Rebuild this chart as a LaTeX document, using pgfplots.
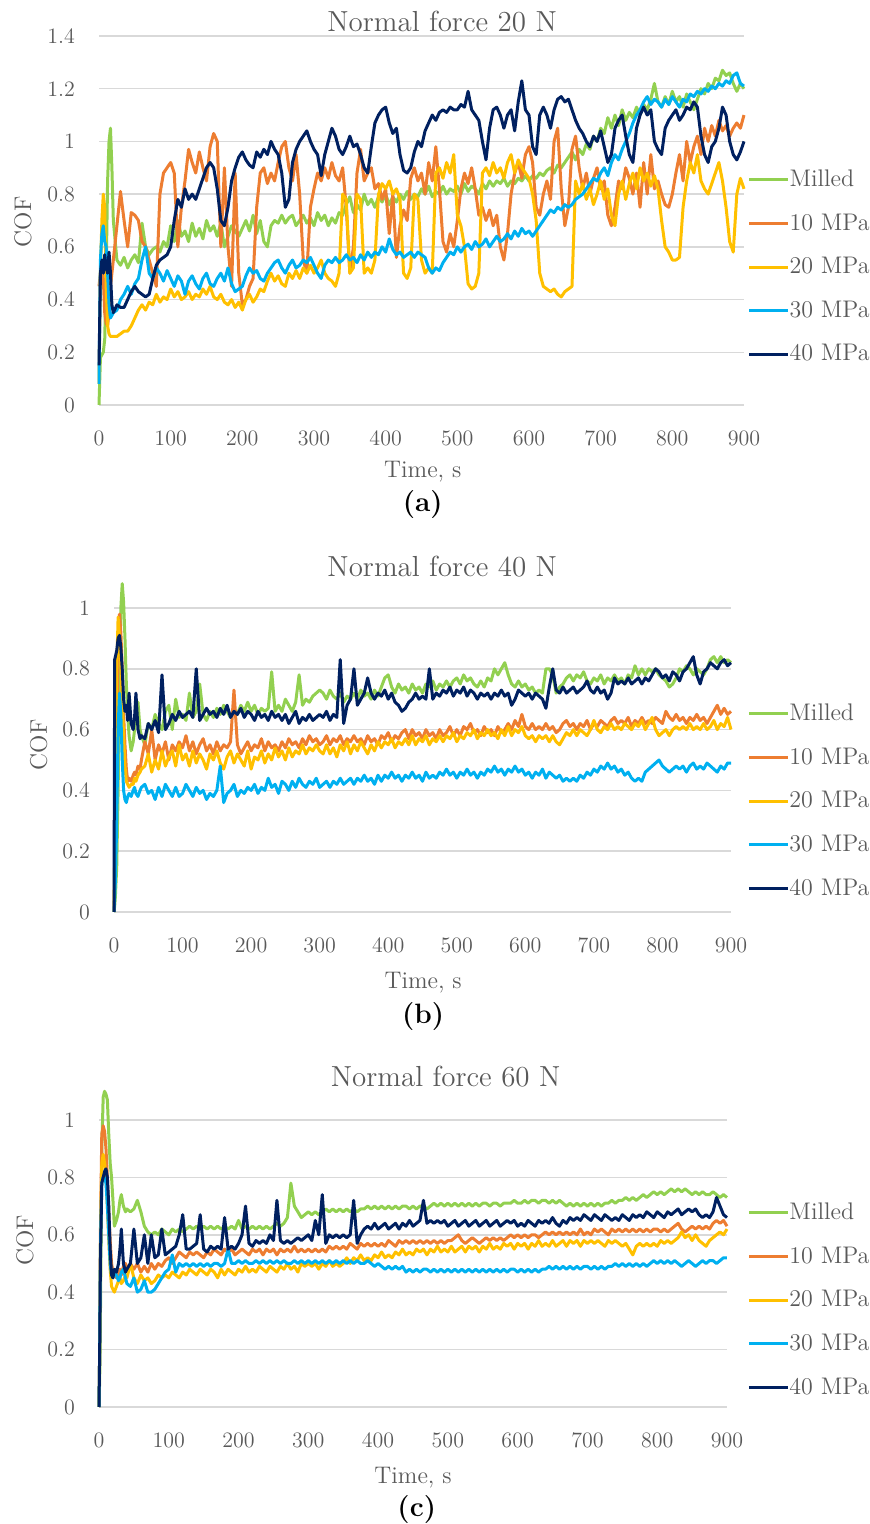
\documentclass[border=0pt]{standalone}
\usepackage{pgfplots}
\usepackage{pgfplotstable}
\pgfplotsset{compat=1.18}
\definecolor{cmilled}{HTML}{92D050}
\definecolor{cten}{HTML}{ED7D31}
\definecolor{ctwenty}{HTML}{FFC000}
\definecolor{cthirty}{HTML}{00B0F0}
\definecolor{cforty}{HTML}{002060}
\definecolor{gridgray}{HTML}{D9D9D9}
\definecolor{textgray}{HTML}{595959}

\pgfplotstableread{
t m p10 p20 p30 p40
0 0.00 0.45 0.08 0.08 0.15
2 0.18 0.50 0.50 0.55 0.50
4 0.19 0.55 0.70 0.65 0.55
6 0.20 0.48 0.80 0.68 0.50
8 0.25 0.35 0.75 0.62 0.57
10 0.50 0.31 0.45 0.60 0.52
12 0.85 0.30 0.30 0.50 0.50
14 1.00 0.35 0.27 0.38 0.58
16 1.05 0.45 0.26 0.33 0.50
18 0.90 0.50 0.26 0.34 0.38
20 0.70 0.55 0.26 0.35 0.35
25 0.55 0.68 0.26 0.36 0.38
30 0.53 0.81 0.27 0.40 0.37
35 0.56 0.70 0.28 0.42 0.37
40 0.52 0.60 0.28 0.45 0.40
45 0.55 0.73 0.30 0.42 0.43
50 0.57 0.72 0.33 0.46 0.45
55 0.54 0.70 0.36 0.48 0.43
60 0.69 0.62 0.38 0.55 0.42
65 0.60 0.60 0.36 0.60 0.41
70 0.57 0.55 0.39 0.50 0.42
75 0.59 0.50 0.38 0.48 0.48
80 0.60 0.45 0.42 0.52 0.53
85 0.58 0.80 0.39 0.50 0.55
90 0.62 0.88 0.41 0.47 0.56
95 0.60 0.90 0.40 0.51 0.57
100 0.68 0.92 0.44 0.48 0.60
105 0.62 0.88 0.41 0.45 0.70
110 0.70 0.60 0.43 0.49 0.78
115 0.64 0.75 0.40 0.47 0.75
120 0.66 0.85 0.41 0.42 0.82
125 0.62 0.97 0.43 0.47 0.78
130 0.69 0.92 0.40 0.49 0.80
135 0.64 0.88 0.42 0.46 0.78
140 0.67 0.96 0.41 0.44 0.82
145 0.63 0.90 0.44 0.48 0.86
150 0.70 0.85 0.42 0.50 0.90
155 0.66 0.98 0.45 0.46 0.92
160 0.68 1.03 0.41 0.45 0.90
165 0.64 1.00 0.40 0.48 0.82
170 0.69 0.60 0.42 0.50 0.70
175 0.60 0.90 0.39 0.47 0.68
180 0.64 0.60 0.38 0.52 0.75
185 0.68 0.45 0.40 0.46 0.85
190 0.66 0.88 0.37 0.43 0.90
195 0.64 0.50 0.39 0.44 0.94
200 0.67 0.38 0.36 0.45 0.96
205 0.70 0.40 0.40 0.49 0.93
210 0.66 0.45 0.42 0.52 0.91
215 0.72 0.48 0.39 0.50 0.90
220 0.65 0.75 0.41 0.51 0.96
225 0.70 0.88 0.44 0.48 0.94
230 0.62 0.90 0.43 0.47 0.97
235 0.60 0.84 0.47 0.50 0.95
240 0.68 0.88 0.50 0.52 1.00
245 0.70 0.85 0.47 0.54 0.97
250 0.69 0.92 0.49 0.55 0.95
255 0.72 0.98 0.46 0.52 0.88
260 0.69 1.00 0.45 0.50 0.75
265 0.71 0.90 0.50 0.53 0.78
270 0.72 0.85 0.48 0.55 0.92
275 0.68 0.95 0.51 0.52 0.97
280 0.70 0.80 0.48 0.53 1.00
285 0.72 0.55 0.52 0.55 1.02
290 0.69 0.50 0.50 0.54 1.04
295 0.71 0.75 0.53 0.56 1.00
300 0.68 0.82 0.50 0.53 0.97
305 0.73 0.88 0.52 0.50 0.95
310 0.70 0.85 0.55 0.48 0.87
315 0.72 0.90 0.50 0.53 0.95
320 0.68 0.86 0.48 0.55 1.00
325 0.71 0.92 0.47 0.54 1.05
330 0.69 0.87 0.45 0.56 1.02
335 0.73 0.85 0.50 0.54 0.97
340 0.72 0.90 0.80 0.55 0.95
345 0.76 0.75 0.78 0.57 0.98
350 0.79 0.50 0.50 0.55 1.02
355 0.73 0.60 0.52 0.56 0.98
360 0.76 0.88 0.80 0.54 0.99
365 0.74 0.97 0.78 0.57 0.95
370 0.80 0.85 0.50 0.55 0.90
375 0.76 0.88 0.52 0.58 0.88
380 0.78 0.90 0.50 0.56 0.98
385 0.75 0.82 0.55 0.58 1.07
390 0.79 0.84 0.80 0.57 1.10
395 0.77 0.78 0.84 0.60 1.12
400 0.80 0.82 0.82 0.58 1.13
405 0.76 0.65 0.85 0.63 1.07
410 0.79 0.80 0.80 0.59 1.03
415 0.77 0.56 0.82 0.57 1.05
420 0.80 0.68 0.78 0.58 0.95
425 0.78 0.74 0.50 0.56 0.89
430 0.81 0.70 0.48 0.57 0.88
435 0.78 0.86 0.52 0.58 0.90
440 0.80 0.90 0.80 0.56 0.96
445 0.79 0.85 0.78 0.58 1.00
450 0.82 0.88 0.55 0.57 0.98
455 0.80 0.80 0.50 0.56 1.04
460 0.83 0.92 0.52 0.52 1.07
465 0.79 0.85 0.50 0.50 1.10
470 0.81 0.98 0.88 0.52 1.08
475 0.80 0.82 0.90 0.51 1.11
480 0.83 0.62 0.86 0.54 1.12
485 0.80 0.58 0.92 0.56 1.11
490 0.82 0.65 0.88 0.58 1.13
495 0.81 0.60 0.95 0.57 1.12
500 0.83 0.70 0.72 0.60 1.12
505 0.80 0.82 0.68 0.58 1.14
510 0.84 0.88 0.60 0.60 1.13
515 0.81 0.84 0.46 0.61 1.19
520 0.83 0.90 0.44 0.59 1.12
525 0.82 0.82 0.45 0.62 1.10
530 0.80 0.72 0.50 0.60 1.08
535 0.84 0.75 0.88 0.61 1.00
540 0.82 0.70 0.90 0.63 0.93
545 0.85 0.74 0.87 0.60 1.05
550 0.83 0.68 0.92 0.62 1.12
555 0.85 0.72 0.88 0.64 1.13
560 0.84 0.60 0.90 0.62 1.10
565 0.86 0.55 0.86 0.63 1.05
570 0.83 0.65 0.92 0.65 1.10
575 0.85 0.80 0.95 0.63 1.12
580 0.84 0.88 0.88 0.66 1.04
585 0.86 0.92 0.93 0.64 1.15
590 0.85 0.86 0.90 0.67 1.23
595 0.87 0.95 0.88 0.65 1.12
600 0.85 0.98 0.86 0.66 1.10
605 0.87 0.92 0.80 0.64 0.98
610 0.86 0.75 0.70 0.66 0.95
615 0.88 0.72 0.50 0.68 1.10
620 0.87 0.80 0.45 0.70 1.13
625 0.89 0.85 0.44 0.72 1.10
630 0.90 0.78 0.43 0.74 1.05
635 0.88 1.00 0.44 0.73 1.12
640 0.91 1.05 0.42 0.75 1.16
645 0.90 0.82 0.41 0.74 1.17
650 0.92 0.68 0.43 0.76 1.15
655 0.94 0.75 0.44 0.75 1.16
660 0.96 0.97 0.45 0.76 1.12
665 0.93 1.02 0.85 0.78 1.08
670 0.97 0.90 0.80 0.79 1.05
675 0.95 0.82 0.84 0.80 1.03
680 0.99 0.88 0.78 0.82 1.00
685 0.97 0.80 0.82 0.84 0.98
690 1.02 0.86 0.76 0.86 1.02
695 1.00 0.90 0.80 0.85 1.00
700 1.05 0.82 0.85 0.88 1.04
705 1.03 0.85 0.78 0.90 0.98
710 1.09 0.72 0.82 0.87 0.92
715 1.05 0.68 0.72 0.92 0.95
720 1.10 0.75 0.68 0.95 1.05
725 1.06 0.85 0.80 0.93 1.08
730 1.12 0.82 0.85 0.97 1.10
735 1.08 0.90 0.78 1.00 1.02
740 1.11 0.86 0.84 1.03 0.95
745 1.09 0.80 0.88 1.07 0.92
750 1.13 0.88 0.82 1.10 1.05
755 1.10 0.75 0.90 1.12 1.10
760 1.14 0.92 0.85 1.15 1.13
765 1.12 0.80 0.88 1.17 1.10
770 1.16 0.95 0.83 1.14 1.12
775 1.22 0.82 0.87 1.16 1.00
780 1.15 0.85 0.82 1.15 0.97
785 1.13 0.80 0.70 1.13 0.95
790 1.17 0.76 0.60 1.16 1.05
795 1.14 0.75 0.58 1.14 1.08
800 1.19 0.80 0.55 1.17 1.10
805 1.15 0.88 0.55 1.15 1.12
810 1.17 0.95 0.56 1.13 1.08
815 1.13 0.85 0.75 1.16 1.10
820 1.18 1.00 0.85 1.15 1.13
825 1.15 0.92 0.92 1.18 1.12
830 1.12 0.98 0.88 1.17 1.15
835 1.16 1.02 0.95 1.19 1.13
840 1.20 0.95 0.85 1.18 1.02
845 1.18 1.05 0.82 1.20 0.95
850 1.22 1.00 0.80 1.19 0.92
855 1.20 1.06 0.84 1.21 0.98
860 1.24 1.02 0.88 1.20 1.00
865 1.23 1.08 0.92 1.22 1.05
870 1.27 1.04 0.85 1.21 1.13
875 1.25 1.06 0.75 1.23 1.10
880 1.26 1.02 0.62 1.22 1.00
885 1.22 1.05 0.58 1.25 0.95
890 1.19 1.07 0.80 1.26 0.93
895 1.22 1.05 0.86 1.22 0.96
900 1.20 1.10 0.82 1.21 1.00
}\tabA

\pgfplotstableread{
t m p10 p20 p30 p40
0 0.00 0.00 0.00 0.00 0.00
1 0.02 0.10 0.20 0.05 0.83
2 0.05 0.30 0.45 0.10 0.84
4 0.15 0.60 0.80 0.30 0.86
6 0.40 0.85 0.97 0.60 0.90
8 0.75 0.98 0.90 0.72 0.91
10 1.00 0.92 0.82 0.65 0.87
12 1.08 0.80 0.70 0.50 0.80
14 1.02 0.65 0.58 0.40 0.70
16 0.90 0.55 0.48 0.37 0.66
18 0.75 0.47 0.43 0.36 0.68
20 0.65 0.43 0.42 0.38 0.63
22 0.58 0.44 0.41 0.39 0.72
25 0.53 0.43 0.42 0.38 0.62
28 0.56 0.45 0.42 0.40 0.60
30 0.60 0.46 0.44 0.41 0.64
32 0.66 0.45 0.43 0.39 0.72
35 0.69 0.48 0.45 0.38 0.60
38 0.60 0.47 0.46 0.40 0.57
40 0.58 0.50 0.47 0.41 0.58
45 0.55 0.56 0.48 0.42 0.57
50 0.62 0.52 0.52 0.39 0.62
55 0.60 0.60 0.46 0.40 0.60
60 0.65 0.50 0.50 0.37 0.63
65 0.62 0.55 0.47 0.41 0.59
70 0.60 0.52 0.53 0.38 0.78
75 0.66 0.56 0.48 0.42 0.60
80 0.68 0.50 0.51 0.40 0.62
85 0.60 0.55 0.53 0.38 0.65
90 0.70 0.53 0.48 0.41 0.63
95 0.64 0.56 0.55 0.38 0.66
100 0.65 0.54 0.50 0.39 0.64
105 0.63 0.58 0.52 0.42 0.65
110 0.72 0.53 0.48 0.40 0.66
115 0.64 0.56 0.53 0.38 0.64
120 0.66 0.52 0.49 0.41 0.80
125 0.75 0.55 0.52 0.39 0.63
130 0.65 0.57 0.50 0.40 0.65
135 0.63 0.53 0.47 0.37 0.67
140 0.66 0.55 0.52 0.39 0.65
145 0.64 0.52 0.50 0.38 0.66
150 0.67 0.56 0.53 0.40 0.64
155 0.65 0.53 0.49 0.48 0.67
160 0.68 0.55 0.47 0.36 0.65
165 0.66 0.54 0.51 0.39 0.68
170 0.64 0.56 0.53 0.40 0.64
175 0.67 0.73 0.49 0.42 0.66
180 0.65 0.55 0.52 0.38 0.65
185 0.68 0.52 0.50 0.40 0.67
190 0.66 0.54 0.48 0.39 0.64
195 0.69 0.56 0.53 0.41 0.66
200 0.66 0.53 0.47 0.40 0.65
205 0.68 0.55 0.51 0.42 0.63
210 0.65 0.54 0.50 0.39 0.66
215 0.67 0.57 0.53 0.41 0.64
220 0.66 0.53 0.49 0.40 0.65
225 0.67 0.56 0.52 0.44 0.63
230 0.79 0.54 0.50 0.41 0.66
235 0.66 0.55 0.54 0.42 0.64
240 0.68 0.53 0.51 0.39 0.65
245 0.66 0.56 0.53 0.43 0.63
250 0.70 0.54 0.50 0.42 0.65
255 0.68 0.57 0.54 0.40 0.62
260 0.66 0.55 0.51 0.43 0.64
265 0.69 0.56 0.53 0.41 0.66
270 0.78 0.54 0.52 0.44 0.62
275 0.68 0.57 0.55 0.42 0.64
280 0.70 0.55 0.52 0.41 0.63
285 0.69 0.58 0.54 0.43 0.65
290 0.71 0.56 0.53 0.42 0.63
295 0.72 0.57 0.55 0.44 0.64
300 0.73 0.55 0.53 0.41 0.65
305 0.72 0.56 0.52 0.42 0.64
310 0.70 0.58 0.55 0.43 0.66
315 0.73 0.55 0.52 0.41 0.63
320 0.71 0.57 0.54 0.43 0.65
325 0.70 0.56 0.51 0.42 0.64
330 0.72 0.58 0.55 0.44 0.83
335 0.69 0.55 0.53 0.42 0.62
340 0.71 0.57 0.56 0.43 0.68
345 0.70 0.56 0.52 0.44 0.70
350 0.72 0.58 0.55 0.42 0.80
355 0.70 0.56 0.53 0.44 0.68
360 0.73 0.57 0.56 0.43 0.70
365 0.71 0.55 0.54 0.45 0.72
370 0.72 0.58 0.52 0.43 0.77
375 0.70 0.56 0.55 0.44 0.72
380 0.73 0.57 0.53 0.42 0.70
385 0.71 0.55 0.56 0.45 0.72
390 0.74 0.58 0.54 0.43 0.71
395 0.77 0.57 0.56 0.45 0.73
400 0.78 0.59 0.55 0.44 0.70
405 0.74 0.56 0.57 0.46 0.72
410 0.72 0.58 0.54 0.44 0.69
415 0.75 0.57 0.56 0.45 0.68
420 0.73 0.59 0.55 0.43 0.66
425 0.74 0.60 0.57 0.45 0.67
430 0.72 0.57 0.55 0.44 0.69
435 0.75 0.60 0.58 0.46 0.70
440 0.73 0.58 0.55 0.44 0.72
445 0.74 0.59 0.57 0.45 0.70
450 0.72 0.57 0.56 0.43 0.71
455 0.75 0.60 0.58 0.46 0.70
460 0.74 0.58 0.55 0.44 0.80
465 0.76 0.59 0.57 0.45 0.70
470 0.73 0.57 0.56 0.44 0.72
475 0.75 0.60 0.58 0.46 0.71
480 0.74 0.58 0.56 0.45 0.73
485 0.76 0.59 0.58 0.47 0.72
490 0.74 0.61 0.57 0.45 0.74
495 0.76 0.58 0.59 0.46 0.71
500 0.77 0.60 0.56 0.44 0.73
505 0.75 0.58 0.58 0.46 0.72
510 0.78 0.61 0.57 0.45 0.74
515 0.76 0.60 0.59 0.47 0.71
520 0.77 0.62 0.58 0.45 0.73
525 0.75 0.59 0.60 0.46 0.72
530 0.74 0.60 0.57 0.44 0.70
535 0.76 0.58 0.59 0.46 0.72
540 0.74 0.61 0.58 0.45 0.71
545 0.77 0.59 0.60 0.47 0.72
550 0.76 0.60 0.58 0.46 0.70
555 0.80 0.58 0.59 0.48 0.72
560 0.78 0.61 0.57 0.46 0.71
565 0.80 0.59 0.60 0.47 0.73
570 0.82 0.60 0.58 0.45 0.71
575 0.78 0.62 0.61 0.47 0.72
580 0.75 0.60 0.58 0.46 0.68
585 0.74 0.63 0.60 0.48 0.70
590 0.76 0.61 0.59 0.46 0.73
595 0.74 0.65 0.61 0.47 0.72
600 0.75 0.61 0.58 0.45 0.71
605 0.73 0.60 0.57 0.46 0.72
610 0.74 0.62 0.58 0.44 0.70
615 0.72 0.60 0.56 0.46 0.72
620 0.73 0.61 0.58 0.45 0.71
625 0.72 0.60 0.57 0.47 0.70
630 0.80 0.62 0.58 0.44 0.67
635 0.80 0.60 0.56 0.46 0.74
640 0.78 0.61 0.58 0.45 0.80
645 0.72 0.59 0.56 0.44 0.73
650 0.74 0.60 0.55 0.45 0.72
655 0.75 0.62 0.57 0.43 0.74
660 0.77 0.63 0.59 0.44 0.72
665 0.78 0.61 0.58 0.43 0.73
670 0.76 0.62 0.60 0.44 0.74
675 0.78 0.60 0.58 0.43 0.72
680 0.77 0.62 0.60 0.45 0.73
685 0.79 0.61 0.59 0.44 0.74
690 0.76 0.63 0.58 0.46 0.76
695 0.75 0.60 0.60 0.45 0.73
700 0.77 0.62 0.63 0.47 0.72
705 0.76 0.61 0.60 0.46 0.74
710 0.78 0.63 0.59 0.48 0.72
715 0.75 0.62 0.61 0.47 0.73
720 0.77 0.61 0.60 0.49 0.70
725 0.76 0.63 0.62 0.47 0.72
730 0.78 0.64 0.60 0.48 0.77
735 0.76 0.62 0.61 0.46 0.75
740 0.77 0.63 0.60 0.47 0.76
745 0.75 0.62 0.62 0.45 0.75
750 0.78 0.64 0.61 0.46 0.77
755 0.77 0.61 0.60 0.44 0.75
760 0.81 0.63 0.62 0.43 0.76
765 0.78 0.62 0.61 0.44 0.77
770 0.80 0.64 0.63 0.43 0.75
775 0.78 0.62 0.60 0.46 0.77
780 0.80 0.63 0.62 0.47 0.76
785 0.79 0.62 0.64 0.48 0.78
790 0.80 0.64 0.60 0.49 0.80
795 0.78 0.63 0.58 0.50 0.79
800 0.77 0.62 0.59 0.48 0.77
805 0.76 0.66 0.60 0.47 0.78
810 0.74 0.64 0.58 0.46 0.76
815 0.75 0.63 0.60 0.47 0.79
820 0.77 0.65 0.61 0.48 0.78
825 0.80 0.63 0.60 0.47 0.76
830 0.79 0.64 0.61 0.48 0.79
835 0.81 0.62 0.60 0.46 0.80
840 0.80 0.64 0.62 0.48 0.82
845 0.78 0.63 0.60 0.49 0.84
850 0.80 0.65 0.61 0.47 0.78
855 0.79 0.63 0.60 0.48 0.75
860 0.78 0.64 0.62 0.47 0.79
865 0.80 0.62 0.60 0.49 0.80
870 0.83 0.64 0.61 0.48 0.82
875 0.84 0.66 0.63 0.47 0.81
880 0.82 0.68 0.60 0.46 0.80
885 0.84 0.65 0.62 0.48 0.82
890 0.82 0.67 0.61 0.47 0.83
895 0.83 0.65 0.64 0.49 0.81
900 0.82 0.66 0.60 0.49 0.82
}\tabB

\pgfplotstableread{
t m p10 p20 p30 p40
0 0.00 0.00 0.00 0.00 0.00
1 0.10 0.20 0.20 0.20 0.20
2 0.30 0.60 0.55 0.55 0.50
4 0.90 0.95 0.85 0.78 0.78
6 1.08 0.98 0.88 0.80 0.80
8 1.10 0.96 0.85 0.80 0.82
10 1.09 0.90 0.80 0.78 0.83
12 1.07 0.80 0.70 0.70 0.80
14 0.95 0.68 0.58 0.60 0.70
16 0.85 0.58 0.48 0.50 0.55
18 0.80 0.50 0.42 0.46 0.46
20 0.72 0.47 0.41 0.45 0.45
22 0.63 0.46 0.40 0.47 0.48
25 0.65 0.45 0.42 0.46 0.47
28 0.68 0.47 0.44 0.44 0.50
30 0.72 0.48 0.45 0.45 0.55
32 0.74 0.46 0.43 0.47 0.62
35 0.70 0.49 0.44 0.48 0.50
38 0.68 0.50 0.46 0.45 0.47
40 0.69 0.48 0.45 0.43 0.48
45 0.68 0.50 0.50 0.42 0.50
50 0.69 0.48 0.45 0.45 0.62
55 0.72 0.50 0.43 0.40 0.50
60 0.68 0.47 0.46 0.41 0.52
65 0.63 0.49 0.44 0.44 0.60
70 0.61 0.47 0.45 0.40 0.50
75 0.60 0.50 0.43 0.40 0.60
80 0.61 0.48 0.44 0.41 0.52
85 0.60 0.50 0.46 0.43 0.53
90 0.62 0.49 0.45 0.45 0.62
95 0.61 0.51 0.46 0.47 0.53
100 0.60 0.52 0.45 0.48 0.54
105 0.62 0.50 0.47 0.53 0.55
110 0.61 0.52 0.46 0.47 0.56
115 0.62 0.54 0.45 0.50 0.60
120 0.61 0.53 0.47 0.49 0.67
125 0.62 0.52 0.46 0.50 0.55
130 0.63 0.54 0.48 0.49 0.55
135 0.62 0.53 0.47 0.50 0.56
140 0.63 0.54 0.46 0.49 0.57
145 0.62 0.53 0.48 0.50 0.67
150 0.63 0.52 0.47 0.49 0.55
155 0.62 0.54 0.46 0.50 0.54
160 0.63 0.53 0.48 0.49 0.56
165 0.62 0.55 0.47 0.50 0.55
170 0.63 0.54 0.45 0.50 0.56
175 0.62 0.53 0.48 0.49 0.55
180 0.63 0.55 0.46 0.50 0.66
185 0.62 0.54 0.48 0.55 0.55
190 0.63 0.55 0.47 0.50 0.56
195 0.62 0.53 0.46 0.50 0.55
200 0.65 0.54 0.48 0.51 0.57
205 0.62 0.55 0.47 0.50 0.60
210 0.63 0.54 0.49 0.51 0.70
215 0.62 0.53 0.47 0.50 0.57
220 0.63 0.55 0.48 0.50 0.56
225 0.62 0.54 0.47 0.51 0.58
230 0.63 0.55 0.49 0.50 0.57
235 0.62 0.53 0.48 0.51 0.58
240 0.63 0.55 0.47 0.50 0.57
245 0.62 0.54 0.49 0.51 0.60
250 0.63 0.55 0.48 0.50 0.58
255 0.64 0.53 0.47 0.51 0.72
260 0.63 0.55 0.49 0.50 0.58
265 0.64 0.54 0.48 0.51 0.57
270 0.66 0.55 0.50 0.50 0.58
275 0.78 0.54 0.48 0.50 0.57
280 0.70 0.56 0.49 0.51 0.58
285 0.68 0.54 0.47 0.50 0.59
290 0.66 0.55 0.50 0.51 0.58
295 0.67 0.54 0.49 0.50 0.59
300 0.68 0.55 0.50 0.51 0.60
305 0.67 0.54 0.49 0.50 0.58
310 0.68 0.55 0.50 0.51 0.65
315 0.67 0.54 0.48 0.50 0.60
320 0.68 0.55 0.50 0.51 0.74
325 0.69 0.54 0.49 0.50 0.57
330 0.68 0.56 0.51 0.51 0.60
335 0.69 0.55 0.49 0.50 0.59
340 0.68 0.56 0.50 0.51 0.60
345 0.69 0.55 0.49 0.50 0.59
350 0.68 0.56 0.50 0.51 0.60
355 0.69 0.55 0.52 0.50 0.59
360 0.68 0.57 0.50 0.51 0.60
365 0.69 0.56 0.52 0.50 0.72
370 0.68 0.55 0.51 0.51 0.57
375 0.69 0.57 0.53 0.50 0.60
380 0.69 0.56 0.51 0.50 0.62
385 0.70 0.57 0.52 0.51 0.63
390 0.69 0.56 0.51 0.50 0.62
395 0.70 0.57 0.53 0.49 0.64
400 0.69 0.56 0.52 0.50 0.62
405 0.70 0.57 0.54 0.49 0.63
410 0.69 0.56 0.52 0.48 0.64
415 0.70 0.58 0.53 0.49 0.62
420 0.69 0.57 0.52 0.48 0.63
425 0.70 0.56 0.54 0.49 0.64
430 0.69 0.58 0.53 0.48 0.62
435 0.70 0.57 0.55 0.49 0.64
440 0.70 0.58 0.53 0.47 0.63
445 0.69 0.57 0.54 0.48 0.65
450 0.70 0.58 0.53 0.47 0.63
455 0.69 0.57 0.55 0.48 0.64
460 0.70 0.58 0.54 0.47 0.65
465 0.70 0.57 0.55 0.48 0.72
470 0.69 0.58 0.53 0.48 0.64
475 0.70 0.57 0.55 0.47 0.65
480 0.71 0.58 0.54 0.48 0.64
485 0.70 0.57 0.56 0.47 0.65
490 0.71 0.58 0.54 0.48 0.64
495 0.70 0.57 0.55 0.47 0.65
500 0.71 0.58 0.54 0.48 0.63
505 0.70 0.58 0.56 0.47 0.64
510 0.71 0.59 0.54 0.48 0.65
515 0.70 0.60 0.55 0.47 0.63
520 0.71 0.58 0.56 0.48 0.64
525 0.70 0.57 0.54 0.47 0.65
530 0.71 0.58 0.56 0.48 0.63
535 0.70 0.59 0.55 0.47 0.64
540 0.71 0.58 0.56 0.48 0.65
545 0.70 0.57 0.54 0.47 0.63
550 0.71 0.58 0.56 0.48 0.64
555 0.71 0.59 0.55 0.47 0.65
560 0.70 0.58 0.57 0.48 0.63
565 0.71 0.59 0.55 0.47 0.64
570 0.71 0.58 0.56 0.48 0.65
575 0.70 0.59 0.55 0.47 0.63
580 0.71 0.58 0.57 0.48 0.64
585 0.71 0.59 0.56 0.47 0.65
590 0.71 0.60 0.57 0.48 0.64
595 0.72 0.59 0.55 0.48 0.65
600 0.71 0.60 0.57 0.47 0.63
605 0.71 0.59 0.56 0.48 0.64
610 0.72 0.60 0.57 0.47 0.63
615 0.71 0.59 0.55 0.48 0.65
620 0.72 0.60 0.57 0.47 0.64
625 0.72 0.60 0.56 0.48 0.63
630 0.71 0.59 0.58 0.47 0.65
635 0.72 0.60 0.56 0.48 0.64
640 0.72 0.61 0.57 0.48 0.65
645 0.71 0.60 0.56 0.49 0.64
650 0.72 0.61 0.58 0.48 0.66
655 0.71 0.60 0.56 0.49 0.64
660 0.72 0.61 0.57 0.48 0.63
665 0.71 0.60 0.58 0.49 0.65
670 0.70 0.61 0.56 0.48 0.64
675 0.71 0.60 0.58 0.49 0.66
680 0.70 0.61 0.57 0.48 0.65
685 0.71 0.60 0.58 0.49 0.66
690 0.70 0.62 0.56 0.48 0.65
695 0.71 0.60 0.58 0.49 0.67
700 0.70 0.61 0.57 0.49 0.66
705 0.71 0.60 0.58 0.48 0.65
710 0.70 0.62 0.57 0.49 0.67
715 0.71 0.61 0.58 0.48 0.66
720 0.70 0.62 0.57 0.49 0.65
725 0.71 0.61 0.56 0.48 0.67
730 0.71 0.60 0.58 0.49 0.66
735 0.72 0.62 0.57 0.49 0.65
740 0.71 0.61 0.58 0.50 0.66
745 0.72 0.62 0.57 0.49 0.65
750 0.72 0.61 0.56 0.50 0.67
755 0.73 0.62 0.57 0.49 0.66
760 0.72 0.61 0.55 0.50 0.65
765 0.73 0.62 0.53 0.49 0.67
770 0.72 0.61 0.56 0.50 0.66
775 0.73 0.62 0.57 0.49 0.67
780 0.74 0.61 0.56 0.50 0.66
785 0.73 0.62 0.57 0.49 0.68
790 0.74 0.61 0.56 0.50 0.67
795 0.75 0.62 0.57 0.51 0.66
800 0.74 0.62 0.56 0.50 0.68
805 0.75 0.61 0.58 0.51 0.67
810 0.74 0.62 0.57 0.50 0.66
815 0.75 0.61 0.58 0.51 0.68
820 0.76 0.62 0.57 0.50 0.67
825 0.75 0.63 0.58 0.51 0.68
830 0.76 0.64 0.59 0.50 0.69
835 0.75 0.62 0.61 0.49 0.67
840 0.76 0.61 0.59 0.50 0.68
845 0.75 0.62 0.60 0.51 0.69
850 0.74 0.63 0.58 0.50 0.68
855 0.75 0.62 0.60 0.49 0.69
860 0.74 0.63 0.58 0.50 0.67
865 0.75 0.62 0.57 0.51 0.66
870 0.74 0.63 0.56 0.50 0.67
875 0.74 0.62 0.58 0.51 0.66
880 0.75 0.64 0.59 0.51 0.68
885 0.74 0.65 0.60 0.50 0.73
890 0.73 0.64 0.61 0.51 0.70
895 0.74 0.65 0.60 0.52 0.67
900 0.73 0.63 0.62 0.52 0.66
}\tabC

\pgfplotsset{
  cof/.style={
    scale only axis, anchor=south west,
    xmin=0, xmax=900, ymin=0,
    clip=false,
    axis line style={draw=none},
    tick style={draw=none},
    ymajorgrids,
    grid style={color=gridgray, line width=0.75pt},
    xtick={0,100,...,900},
    /pgf/number format/assume math mode=true,
    tick label style={font=\fontsize{11}{13}\selectfont, text=textgray},
    xticklabel style={yshift=-9.5pt},
    yticklabel style={xshift=-8.5pt},
    title style={font=\fontsize{14.5}{16}\selectfont, text=textgray, anchor=center, yshift=-6pt},
    xlabel style={font=\fontsize{12}{14}\selectfont, text=textgray, anchor=center},
    ylabel style={font=\fontsize{12}{14}\selectfont, text=textgray, anchor=center},
    xlabel={Time, s}, ylabel={COF},
    legend cell align=left,
    legend style={anchor=north west, draw=none, fill=none, inner sep=0pt,
      row sep=12.1pt, font=\fontsize{12}{14}\selectfont, text=textgray,
      nodes={inner sep=0pt}},
    legend image code/.code={\draw[#1] (0pt,0pt) -- (19.5pt,0pt);},
    every axis plot/.append style={line width=1.5pt, line join=round},
  },
  sm/.style={color=cmilled},
  s10/.style={color=cten},
  s20/.style={color=ctwenty},
  s30/.style={color=cthirty},
  s40/.style={color=cforty},
}

\begin{document}
\begin{tikzpicture}
\useasboundingbox (0pt,0pt) rectangle (435pt,762pt);

% Panel (a)
\begin{axis}[cof, at={(49.5pt,559.5pt)}, width=322.5pt, height=184.5pt, ymax=1.4,
  ytick={0,0.2,...,1.4},
  title={Normal force 20 N},
  title style={at={(axis description cs:0.532,1.038)}},
  xlabel style={at={(axis description cs:0.502,-0.182)}},
  ylabel style={at={(axis description cs:-0.118,0.496)}},
  legend style={at={(axis description cs:1.005,0.638)}},
]
\addplot[sm] table[x=t,y=m] {\tabA};
\addplot[s10] table[x=t,y=p10] {\tabA};
\addplot[s20] table[x=t,y=p20] {\tabA};
\addplot[s30] table[x=t,y=p30] {\tabA};
\addplot[s40] table[x=t,y=p40] {\tabA};
\legend{Milled,10 MPa,20 MPa,30 MPa,40 MPa}
\node[font=\fontsize{14}{16}\selectfont\bfseries] at (axis description cs:0.502,-0.271) {(a)};
\end{axis}

% Panel (b)
\begin{axis}[cof, at={(57pt,306pt)}, width=308.5pt, height=167.2pt, ymax=1.1,
  ytick={0,0.2,...,1.0},
  title={Normal force 40 N},
  title style={at={(axis description cs:0.532,1.032)}},
  xlabel style={at={(axis description cs:0.501,-0.212)}},
  ylabel style={at={(axis description cs:-0.122,0.50)}},
  legend style={at={(axis description cs:1.026,0.623)}},
]
\addplot[sm] table[x=t,y=m] {\tabB};
\addplot[s10] table[x=t,y=p10] {\tabB};
\addplot[s20] table[x=t,y=p20] {\tabB};
\addplot[s30] table[x=t,y=p30] {\tabB};
\addplot[s40] table[x=t,y=p40] {\tabB};
\legend{Milled,10 MPa,20 MPa,30 MPa,40 MPa}
\node[font=\fontsize{14}{16}\selectfont\bfseries] at (axis description cs:0.501,-0.314) {(b)};
\end{axis}

% Panel (c)
\begin{axis}[cof, at={(49.5pt,58.5pt)}, width=314pt, height=157.85pt, ymax=1.1,
  ytick={0,0.2,...,1.0},
  title={Normal force 60 N},
  title style={at={(axis description cs:0.552,1.045)}},
  xlabel style={at={(axis description cs:0.50,-0.225)}},
  ylabel style={at={(axis description cs:-0.118,0.529)}},
  legend style={at={(axis description cs:1.032,0.647)}},
]
\addplot[sm] table[x=t,y=m] {\tabC};
\addplot[s10] table[x=t,y=p10] {\tabC};
\addplot[s20] table[x=t,y=p20] {\tabC};
\addplot[s30] table[x=t,y=p30] {\tabC};
\addplot[s40] table[x=t,y=p40] {\tabC};
\legend{Milled,10 MPa,20 MPa,30 MPa,40 MPa}
\node[font=\fontsize{14}{16}\selectfont\bfseries] at (axis description cs:0.506,-0.326) {(c)};
\end{axis}
\end{tikzpicture}
\end{document}
